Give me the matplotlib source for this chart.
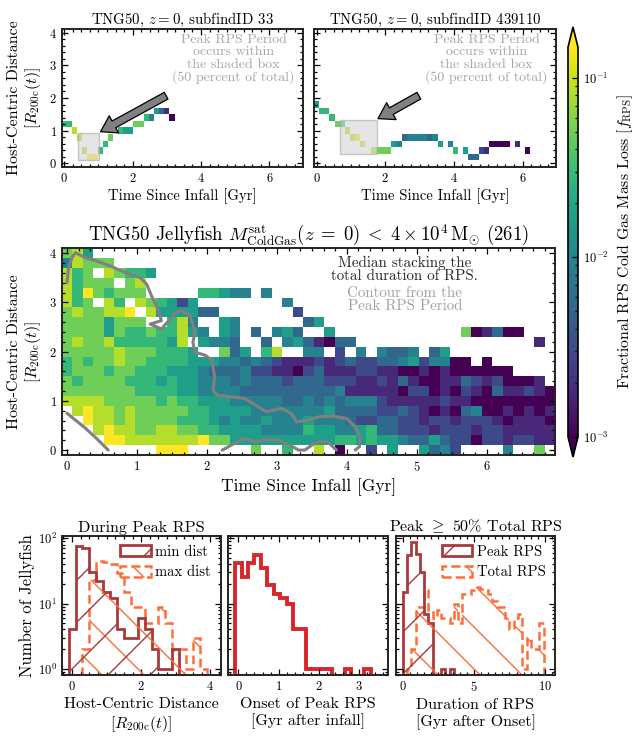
import numpy as np
import matplotlib
matplotlib.use("Agg")
import matplotlib.pyplot as plt
from matplotlib.colors import LogNorm
from matplotlib.patches import Polygon, Rectangle, Patch
from matplotlib.ticker import AutoMinorLocator, MultipleLocator

plt.rcParams['font.family'] = ['cmr10', 'DejaVu Serif']
plt.rcParams['mathtext.fontset'] = 'cm'
plt.rcParams['axes.formatter.use_mathtext'] = True
plt.rcParams['axes.unicode_minus'] = False

# ---------------- data ----------------
T_BIN = 0.15          # Gyr per time bin
D_BIN = 0.2           # R200c per distance bin
NX, NY = 47, 21
LOG_MIN, LOG_MAX = -3.0, -0.83   # colour range of f_RPS (log10)

# median f_RPS map, one string per distance bin from d=4.0 (top) down to d=0.
# digit 0..9 = position on the log colour scale, '.' = no galaxies
median_rows = [
    "785",
    "48777",
    "867.87665",
    "86777.78",
    "86976777 ..... 66544 . 4",
    "867.86.876525 ........ 4",
    "7877889.85555 33 ....... 2",
    "77775777..684 .. 5 4 ...... 3 5",
    "7777576676685 4.54.3.453 ..5 ............ 701300",
    "787786666658. 5443 .. 3 . 45 31033 ................. 1",
    "7777787776665 .. 735 . 68 .. 44.2.4.4334.35",
    "6767787766665 5544343211 12123223345244 00.0",
    "6777677666555 4333422110 23111221100101 000000",
    "7677776665655 4443433323 3322211213 1001 132120001.",
    "7777777666655 4444333333 33341111102201 0210311210",
    "8888777776766 5554444433 43434442111112 1100000000",
    ".898878777776 6555544444 44533332232101 0340010101",
    "..98878777766 6545445444 54443223322122 1222101110",
    "...8988778877 6655554444 65544563322212 2212211111",
    "....998888888 9 775555555 55566565543353 2202212211",
    "......... 999 ...... 7 .. 6 .. 8 . 0 .. 2 . 5 .. 5342 .... 4 .. 7",
]

# single galaxies (time bin, distance bin, colour code)
sub33_t = [0, 1, 2, 3, 4, 5, 6, 7, 8, 9, 11, 12, 13, 14, 15, 16, 17, 18, 19, 20, 21]
sub33_d = [6, 6, 5, 4, 2, 1, 1, 2, 3, 4, 5, 5, 5, 6, 6, 7, 7, 8, 8, 8, 7]
sub33_c = [6, 6, 8, 8, 8, 9, 9, 6, 6, 7, 6, 5, 5, 7, 7, 6, 4, 5, 3, 1, 0]
sub33_box = (0.39, 0.10, 1.02, 0.92)          # peak RPS period (t0, d0, t1, d1)

sub439110_t = [0, 1, 2, 3, 4, 5, 6, 7, 8, 9, 11, 12, 13, 14, 15, 16, 17, 18, 19, 20,
               21, 22, 23, 24, 26, 27, 29, 30, 31, 32, 33, 34, 35, 36, 37, 39, 41]
sub439110_d = [9, 8, 8, 7, 6, 6, 5, 4, 4, 3, 2, 2, 2, 2, 3, 3, 4, 4, 4, 4,
               4, 4, 4, 3, 3, 2, 2, 1, 1, 2, 2, 3, 3, 3, 3, 3, 2]
sub439110_c = [5, 6, 6, 6, 7, 6, 8, 8, 9, 8, 8, 7, 7, 7, 5, 4, 3, 4, 4, 4,
               4, 3, 4, 5, 4, 6, 5, 3, 3, 2, 1, 0, 0, 0, 0, 1, 0]
sub439110_box = (0.68, 0.30, 1.75, 1.32)

# peak RPS contour
cont_a_t = [0.0, 0.02, 0.07, 0.12, 0.26, 0.43, 0.62, 0.83, 1.05, 1.14, 1.21, 1.30, 1.35, 1.19,
            1.35, 1.54, 1.64, 1.76, 1.83, 1.80, 1.83, 1.97, 2.07, 2.11, 2.09, 2.14, 2.35, 2.54,
            2.73, 2.85, 3.07, 3.21, 3.28, 3.45, 3.62, 3.81, 4.0, 4.12, 4.19, 4.18, 4.12]
cont_a_d = [3.40, 3.67, 3.91, 4.01, 3.91, 3.84, 3.74, 3.61, 3.50, 3.37, 3.13, 2.87, 2.63, 2.56,
            2.46, 2.77, 2.84, 2.73, 2.40, 2.19, 1.99, 1.93, 1.83, 1.49, 1.22, 1.12, 1.08, 1.05,
            0.88, 0.78, 0.85, 0.74, 0.57, 0.61, 0.68, 0.69, 0.64, 0.47, 0.27, 0.07, 0.0]
cont_b_t = [2.22, 2.36, 2.54, 2.69, 2.86, 3.05, 3.21, 3.31, 3.40, 3.52, 3.62, 3.72, 3.80, 3.85]
cont_b_d = [0.0, 0.11, 0.24, 0.17, 0.22, 0.19, 0.08, 0.0, 0.0, 0.12, 0.18, 0.17, 0.07, 0.0]
cont_c_t = [0.0, 0.12, 0.26, 0.42, 0.59]
cont_c_d = [0.75, 0.61, 0.45, 0.24, 0.0]

# histograms
dist_edges = np.arange(21) * 0.2 - 0.1
min_dist = [4, 77, 70, 31, 22, 15, 12, 4, 3, 3, 6, 4, 2, 1, 1, 2, 0, 0, 0, 0]
max_dist = [0, 0, 2, 23, 45, 43, 40, 29, 15, 9, 9, 5, 5, 9, 5, 2, 2, 1, 3, 1]

onset_edges = np.arange(22) * 0.16 - 0.08
onset = [42, 26, 42, 56, 35, 19, 14, 12, 10, 4, 4, 1, 1, 1, 1, 0, 0, 1, 0, 0, 1]

dur_edges = np.arange(34) * 0.3
peak_dur = [15, 55, 88, 57, 30, 7, 5, 0, 0, 1, 0, 1] + [0] * 21
total_dur = [0, 1, 2, 9, 9, 16, 8, 6, 8, 6, 6, 5, 10, 5, 14, 14, 16, 18, 17, 16, 14, 11,
             9, 9, 6, 4, 6, 7, 1, 3, 2, 2, 5]

DARK = '#a83a3c'
ORANGE = '#ff6e3a'
RED = '#d8262a'
GREY = '#808080'

# ---------------- helpers ----------------
W, H = 638, 741
fig = plt.figure(figsize=(W / 100, H / 100), dpi=100)


def add_ax(x0, y0, x1, y1):
    return fig.add_axes([x0 / W, 1 - y1 / H, (x1 - x0) / W, (y1 - y0) / H])


def style(ax):
    for s in ax.spines.values():
        s.set_linewidth(1.4)
        s.set_color('#222222')
    ax.tick_params(which='both', direction='in', top=True, right=True, labelsize=9, width=0.9)
    ax.tick_params(which='major', length=4.5)
    ax.tick_params(which='minor', length=2.5)


def to_frac(codes):
    return 10 ** (LOG_MIN + np.asarray(codes, float) / 9 * (LOG_MAX - LOG_MIN))


def single_grid(t, d, c):
    g = np.full((NY, NX), np.nan)
    g[d, t] = to_frac(c)
    return g


def median_grid(rows):
    g = np.full((NY, NX), np.nan)
    for i, row in enumerate(rows):
        row = row.replace(' ', '').ljust(NX, '.')
        for j, ch in enumerate(row[:NX]):
            if ch != '.':
                g[NY - 1 - i, j] = to_frac(int(ch))
    return g


def hatched_steps(ax, edges, counts, color, ls, lw, direction, spacing=42, base=0.3):
    counts = np.asarray(counts, float)
    hgt = np.where(counts > 0, counts, base)
    verts = [(edges[0], base)]
    for k in range(len(counts)):
        verts += [(edges[k], hgt[k]), (edges[k + 1], hgt[k])]
    verts += [(edges[-1], base)]
    poly = Polygon(verts, closed=True, facecolor='none', edgecolor='none')
    ax.add_patch(poly)
    pos = ax.get_position()
    w, h = pos.width * W, pos.height * H
    x0, y0 = pos.x0 * W, pos.y0 * H
    off = (y0 - x0) if direction > 0 else (y0 + x0)
    for k in range(-40, 40):
        c = k * spacing - off
        if direction > 0:
            ys = [c / h, (c + w) / h]
        else:
            ys = [c / h, (c - w) / h]
        ln, = ax.plot([0, 1], ys, transform=ax.transAxes, color=color, lw=1.0)
        ln.set_clip_path(poly)
    ax.stairs(counts, edges, color=color, ls=ls, lw=lw, baseline=base)


x_edges = (np.arange(NX + 1) - 0.5) * T_BIN
y_edges = (np.arange(NY + 1) - 0.5) * D_BIN
norm = LogNorm(vmin=10 ** LOG_MIN, vmax=10 ** LOG_MAX)
XLIM = (x_edges[0], x_edges[-1])
YLIM = (y_edges[0], y_edges[-1])

note = 'Peak RPS Period\noccurs within\nthe shaded box\n(50 percent of total)'
dist_label = 'Host-Centric Distance\n' + r'$[R_{\rm 200c}(t)]$'

# ---------------- top panels ----------------
ax_tl = add_ax(61.7, 29.3, 302.7, 166.7)
ax_tr = add_ax(314, 29.3, 556, 166.7)
tops = [(ax_tl, single_grid(sub33_t, sub33_d, sub33_c), sub33_box, 33),
        (ax_tr, single_grid(sub439110_t, sub439110_d, sub439110_c), sub439110_box, 439110)]
for ax, grid, box, sid in tops:
    ax.pcolormesh(x_edges, y_edges, grid, cmap='viridis', norm=norm)
    t0, d0, t1, d1 = box
    ax.add_patch(Rectangle((t0, d0), t1 - t0, d1 - d0, facecolor='#d4d4d4',
                           edgecolor='#a8a8a8', alpha=0.6, lw=1.0, zorder=3))
    ax.annotate('', xy=(t1 + 0.04, d1 + 0.05), xytext=(2.98, 2.07),
                arrowprops=dict(facecolor=GREY, edgecolor='black', width=5.5,
                                headwidth=14, headlength=11, shrink=0, lw=0.9), zorder=4)
    ax.text(4.95, 3.95, note, ha='center', va='top', fontsize=10, color='#a6a6a6',
            linespacing=1.0)
    ax.set_xlim(XLIM)
    ax.set_ylim(YLIM)
    ax.xaxis.set_major_locator(MultipleLocator(2))
    ax.xaxis.set_minor_locator(AutoMinorLocator(8))
    ax.yaxis.set_major_locator(MultipleLocator(1))
    ax.yaxis.set_minor_locator(AutoMinorLocator(5))
    style(ax)
    ax.set_xlabel('Time Since Infall [Gyr]', fontsize=10.6, labelpad=3)
    ax.set_title(r'TNG50, $z = 0$, subfindID %d' % sid, fontsize=10.7, pad=4)
ax_tl.set_ylabel(dist_label, fontsize=11.5, labelpad=4)
ax_tr.set_yticklabels([])

# ---------------- middle panel ----------------
ax_m = add_ax(61.7, 248.3, 555, 455)
mesh = ax_m.pcolormesh(x_edges, y_edges, median_grid(median_rows), cmap='viridis', norm=norm)
for ct, cd in [(cont_a_t, cont_a_d), (cont_b_t, cont_b_d), (cont_c_t, cont_c_d)]:
    ax_m.plot(ct, cd, color=GREY, lw=2.2, solid_capstyle='round')
ax_m.text(4.83, 3.95, 'Median stacking the\ntotal duration of RPS.', ha='center', va='top',
          fontsize=10.8, color='#262626', linespacing=0.95)
ax_m.text(4.83, 3.33, 'Contour from the\nPeak RPS Period', ha='center', va='top',
          fontsize=10.8, color='#a0a0a0', linespacing=0.95)
ax_m.set_xlim(XLIM)
ax_m.set_ylim(YLIM)
ax_m.xaxis.set_major_locator(MultipleLocator(1))
ax_m.xaxis.set_minor_locator(AutoMinorLocator(6))
ax_m.yaxis.set_major_locator(MultipleLocator(1))
ax_m.yaxis.set_minor_locator(AutoMinorLocator(5))
style(ax_m)
ax_m.set_xlabel('Time Since Infall [Gyr]', fontsize=12.5, labelpad=3)
ax_m.set_ylabel(dist_label, fontsize=11.5, labelpad=4)
ax_m.set_title(r'TNG50 Jellyfish $M^{\rm sat}_{\rm ColdGas}(z\;=\;0)\;<\;4\times10^{4}\,{\rm M}_{\odot}$ (261)',
               fontsize=13.5, pad=3)

# colour bar
cax = add_ax(568, 27, 578, 457)
cb = fig.colorbar(mesh, cax=cax, extend='both', extendfrac=0.052)
cb.outline.set_linewidth(1.2)
cb.ax.tick_params(which='both', direction='in', labelsize=9, width=0.9)
cb.ax.tick_params(which='major', length=4)
cb.ax.tick_params(which='minor', length=2.2)
cb.set_label(r'Fractional RPS Cold Gas Mass Loss [$f_{\rm RPS}$]', fontsize=11.3, labelpad=5)

# ---------------- bottom histograms ----------------
ax_b1 = add_ax(61.7, 535.7, 220.7, 675)
ax_b2 = add_ax(228.3, 535.7, 388.3, 675)
ax_b3 = add_ax(396, 535.7, 555, 675)
for ax in (ax_b1, ax_b2, ax_b3):
    ax.set_yscale('log')
    ax.set_ylim(0.8, 110)

leg_kw = dict(loc='upper right', frameon=False, fontsize=10.5, handlelength=2.1,
              handleheight=0.8, handletextpad=0.3, borderaxespad=0.25, labelspacing=0.45)

ax_b1.set_xlim(-0.3, 4.3)
hatched_steps(ax_b1, dist_edges, max_dist, ORANGE, (0, (3.5, 1.8)), 1.8, -1)
hatched_steps(ax_b1, dist_edges, min_dist, DARK, '-', 2.0, 1)
ax_b1.legend(handles=[Patch(facecolor='none', edgecolor=DARK, hatch='/', lw=2, label='min dist'),
                      Patch(facecolor='none', edgecolor=ORANGE, hatch='\\', ls='--', lw=1.8,
                            label='max dist')], **leg_kw)
ax_b1.xaxis.set_major_locator(MultipleLocator(2))
ax_b1.xaxis.set_minor_locator(AutoMinorLocator(8))
ax_b1.set_title('During Peak RPS', fontsize=11.7, pad=3)
ax_b1.set_xlabel(dist_label, fontsize=11.5, labelpad=3)
ax_b1.set_ylabel('Number of Jellyfish', fontsize=12, labelpad=2)

ax_b2.set_xlim(-0.25, 3.72)
ax_b2.stairs(onset, onset_edges, color=RED, lw=2.8, baseline=0.3)
ax_b2.xaxis.set_major_locator(MultipleLocator(1))
ax_b2.xaxis.set_minor_locator(AutoMinorLocator(5))
ax_b2.set_xlabel('Onset of Peak RPS\n[Gyr after infall]', fontsize=11.5, labelpad=3)

ax_b3.set_xlim(-0.47, 10.7)
hatched_steps(ax_b3, dur_edges, total_dur, ORANGE, (0, (3.5, 1.8)), 1.8, -1)
hatched_steps(ax_b3, dur_edges, peak_dur, DARK, '-', 2.0, 1)
ax_b3.legend(handles=[Patch(facecolor='none', edgecolor=DARK, hatch='/', lw=2, label='Peak RPS'),
                      Patch(facecolor='none', edgecolor=ORANGE, hatch='\\', ls='--', lw=1.8,
                            label='Total RPS')], **leg_kw)
ax_b3.xaxis.set_major_locator(MultipleLocator(5))
ax_b3.xaxis.set_minor_locator(AutoMinorLocator(10))
ax_b3.set_title(r'Peak $\geq$ 50% Total RPS', fontsize=11.5, pad=3)
ax_b3.set_xlabel('Duration of RPS\n[Gyr after Onset]', fontsize=11.5, labelpad=3)

for ax in (ax_b1, ax_b2, ax_b3):
    style(ax)
for ax in (ax_b2, ax_b3):
    ax.yaxis.set_minor_formatter(plt.NullFormatter())
    ax.yaxis.set_major_formatter(plt.NullFormatter())

fig.savefig('out.png', dpi=100)
